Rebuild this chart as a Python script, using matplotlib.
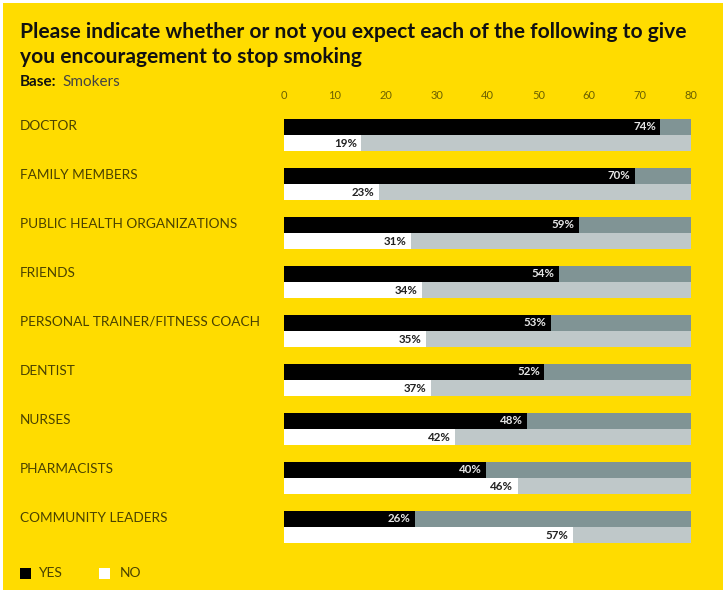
import matplotlib.pyplot as plt
import matplotlib.patches as mpatches

plt.rcParams['font.family'] = ['Lato', 'DejaVu Sans']

categories = ['DOCTOR', 'FAMILY MEMBERS', 'PUBLIC HEALTH ORGANIZATIONS', 'FRIENDS',
              'PERSONAL TRAINER/FITNESS COACH', 'DENTIST', 'NURSES', 'PHARMACISTS',
              'COMMUNITY LEADERS']
# printed labels
yes_pct = [74, 70, 59, 54, 53, 52, 48, 40, 26]
no_pct = [19, 23, 31, 34, 35, 37, 42, 46, 57]
# bar lengths as drawn in the source picture
yes_bar = [74, 69, 58, 54, 52.4, 51.2, 47.8, 39.8, 25.8]
no_bar = [15.2, 18.6, 25, 27.2, 28, 28.9, 33.7, 45.9, 56.8]
x_ticks = [0, 10, 20, 30, 40, 50, 60, 70, 80]
x_max = 80

YELLOW = '#ffdc00'
DARK_GRAY = '#809495'
LIGHT_GRAY = '#bfc8c9'
TEXT = '#4a4200'

W, H = 726, 590
fig = plt.figure(figsize=(W / 100, H / 100), dpi=100, facecolor='white')
fig.patches.append(mpatches.Rectangle((3 / W, 0), 720 / W, 587 / H, transform=fig.transFigure,
                                      facecolor=YELLOW, edgecolor='none', zorder=-10))

ax = fig.add_axes([284 / W, 1 - 556.4 / H, 407 / W, 450.8 / H])
ax.set_facecolor('none')
h = 0.327
for i, cat in enumerate(categories):
    ax.barh(i - h / 2, x_max, height=h, color=DARK_GRAY, zorder=1)
    ax.barh(i + h / 2, x_max, height=h, color=LIGHT_GRAY, zorder=1)
    ax.barh(i - h / 2, yes_bar[i], height=h, color='black', zorder=2)
    ax.barh(i + h / 2, no_bar[i], height=h, color='white', zorder=2)
    ax.text(yes_bar[i] - 0.9, i - h / 2, f'{yes_pct[i]}%', ha='right', va='center',
            color='#e6e6e6', fontsize=8.3, fontweight='bold', zorder=3)
    ax.text(no_bar[i] - 0.9, i + h / 2, f'{no_pct[i]}%', ha='right', va='center',
            color='#222222', fontsize=8.3, fontweight='bold', zorder=3)
    fig.text(20 / W, 1 - (126 + 49 * i) / H, cat, ha='left', va='center',
             fontsize=9.8, color=TEXT)

ax.set_xlim(0, x_max)
ax.set_ylim(8.6, -0.6)
ax.xaxis.tick_top()
ax.set_xticks(x_ticks)
ax.set_xticklabels([str(t) for t in x_ticks], fontsize=8, color='#6b6000')
ax.tick_params(axis='x', length=0, pad=3.5)
ax.set_yticks([])
for s in ax.spines.values():
    s.set_visible(False)

fig.text(20 / W, 1 - 32 / H, 'Please indicate whether or not you expect each of the following to give',
         fontsize=15.1, fontweight='bold', color='#111111', va='center')
fig.text(20 / W, 1 - 57 / H, 'you encouragement to stop smoking',
         fontsize=15.1, fontweight='bold', color='#111111', va='center')
fig.text(20 / W, 1 - 82 / H, 'Base:', fontsize=11, fontweight='bold', color='#111111', va='center')
fig.text(62 / W, 1 - 82 / H, 'Smokers', fontsize=11, color='#444444', va='center')

# legend
fig.patches.append(mpatches.Rectangle((20 / W, 1 - 579 / H), 11 / W, 11 / H,
                                      transform=fig.transFigure, facecolor='black', edgecolor='none'))
fig.text(38 / W, 1 - 573 / H, 'YES', fontsize=10, color=TEXT, va='center')
fig.patches.append(mpatches.Rectangle((99 / W, 1 - 579 / H), 11 / W, 11 / H,
                                      transform=fig.transFigure, facecolor='white', edgecolor='none'))
fig.text(120 / W, 1 - 573 / H, 'NO', fontsize=10, color=TEXT, va='center')

fig.savefig('out.png', dpi=100, facecolor=fig.get_facecolor())
